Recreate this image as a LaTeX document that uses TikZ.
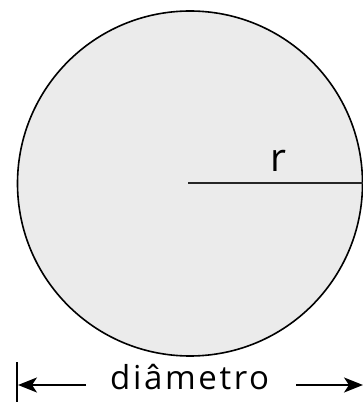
\documentclass[tikz,border=0pt]{standalone}
\usepackage{fontspec}
\setmainfont{Open Sans}
\newfontfamily\spaced[LetterSpace=8]{Open Sans}
\usetikzlibrary{arrows.meta}
\definecolor{disc}{HTML}{EBEBEB}
\tikzset{
  outline/.style={line width=1.6pt, draw=black, fill=disc},
  radline/.style={line width=2pt, draw=black!85},
  dimarrow/.style={line width=1.8pt, -{Stealth[length=19pt,width=15pt,inset=5pt]}},
  lbl/.style={inner sep=0pt}
}
\begin{document}
\begin{tikzpicture}[x=1pt,y=1pt]
\useasboundingbox (0,0) rectangle (363,402);
\begin{scope}
\clip (0,0) rectangle (363,402);
\node[circle, outline, minimum size=345pt, inner sep=0pt] (c) at (190,218.5) {};
\coordinate (ctr) at (188,218.5);
\draw[radline] (ctr) -- (c.east);
\node[lbl, anchor=base, font=\fontsize{39}{42}\selectfont] (r) at (278.5,230) {r};
\node[lbl, anchor=base west, font=\spaced\fontsize{33}{36}\selectfont] (d) at (110,12.5) {diâmetro};
\coordinate (lb1) at (17,0);
\coordinate (lb2) at (17,40);
\draw[line width=1.6pt] (lb1) -- (lb2);
\coordinate (lt) at (18,17);
\coordinate (la) at (86,17);
\coordinate (ra) at (296,17);
\coordinate (rt) at (363,17);
\draw[dimarrow] (la) -- (lt);
\draw[dimarrow] (ra) -- (rt);
\end{scope}
\end{tikzpicture}
\end{document}
